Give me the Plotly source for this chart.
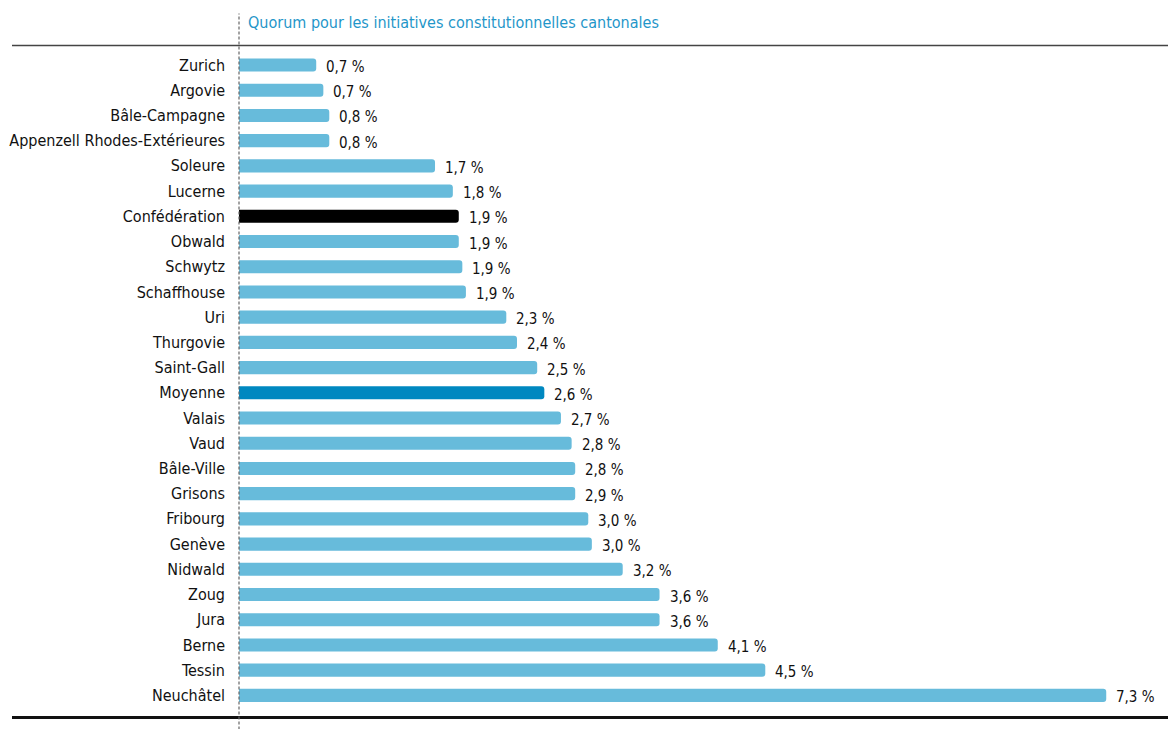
import plotly.graph_objects as go

cantons = ["Zurich", "Argovie", "Bâle-Campagne", "Appenzell Rhodes-Extérieures", "Soleure",
           "Lucerne", "Confédération", "Obwald", "Schwytz", "Schaffhouse", "Uri", "Thurgovie",
           "Saint-Gall", "Moyenne", "Valais", "Vaud", "Bâle-Ville", "Grisons", "Fribourg",
           "Genève", "Nidwald", "Zoug", "Jura", "Berne", "Tessin", "Neuchâtel"]
quorum = [0.65, 0.71, 0.76, 0.76, 1.65, 1.80, 1.85, 1.85, 1.88, 1.91, 2.25, 2.34,
          2.51, 2.57, 2.71, 2.80, 2.83, 2.83, 2.94, 2.97, 3.23, 3.54, 3.54, 4.03, 4.43, 7.30]
value_labels = ["0,7 %", "0,7 %", "0,8 %", "0,8 %", "1,7 %", "1,8 %", "1,9 %", "1,9 %", "1,9 %",
                "1,9 %", "2,3 %", "2,4 %", "2,5 %", "2,6 %", "2,7 %", "2,8 %", "2,8 %", "2,9 %",
                "3,0 %", "3,0 %", "3,2 %", "3,6 %", "3,6 %", "4,1 %", "4,5 %", "7,3 %"]
title_text = "Quorum pour les initiatives constitutionnelles cantonales"

LIGHT = "#67bbdb"
colors = []
for c in cantons:
    if c == "Confédération":
        colors.append("#000000")
    elif c == "Moyenne":
        colors.append("#0088c0")
    else:
        colors.append(LIGHT)

FONT = "DejaVu Sans Condensed"

fig = go.Figure()
fig.add_trace(go.Bar(
    x=quorum, y=cantons, orientation="h",
    marker=dict(color=colors, line=dict(width=0), cornerradius=3),
    width=0.52, hoverinfo="skip",
))

for c, v, t in zip(cantons, quorum, value_labels):
    fig.add_annotation(x=v, y=c, text=t, showarrow=False, xanchor="left",
                       xshift=8, yshift=-2, font=dict(family=FONT, size=15, color="#111111"))

W, H = 1168, 729
L, R, T, B = 239, 0, 52.4, 21.4
ph = H - T - B
pw = W - L - R

def py(pix):
    return 1 - (pix - T) / ph

def px(pix):
    return (pix - L) / pw

fig.add_annotation(x=px(246), y=py(23), xref="paper", yref="paper", text=title_text,
                   showarrow=False, xanchor="left", yanchor="middle",
                   font=dict(family=FONT, size=16, color="#1f96c9"))

fig.add_shape(type="line", xref="paper", yref="paper", x0=px(12), x1=1, y0=py(46), y1=py(46),
              line=dict(color="#444444", width=1.5))
fig.add_shape(type="line", xref="paper", yref="paper", x0=px(12), x1=1, y0=py(717), y1=py(717),
              line=dict(color="#111111", width=3))
fig.add_shape(type="line", xref="paper", yref="paper", x0=0, x1=0, y0=py(729), y1=py(14),
              line=dict(color="#666666", width=1.2, dash="3px,2px"))

fig.update_layout(
    width=W, height=H,
    margin=dict(l=L, r=R, t=T, b=B, pad=0),
    paper_bgcolor="white", plot_bgcolor="white",
    showlegend=False,
    bargap=0.48,
    xaxis=dict(range=[0, pw / 118.8], visible=False, fixedrange=True),
    yaxis=dict(autorange="reversed", showgrid=False, zeroline=False, showline=False,
               ticks="", ticklabelstandoff=13,
               tickfont=dict(family=FONT, size=16, color="#111111"), fixedrange=True),
)

fig.write_html("out.html", config={"displayModeBar": False})
